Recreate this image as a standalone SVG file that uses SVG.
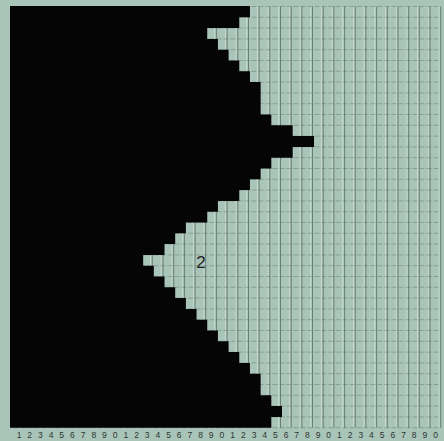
<svg xmlns="http://www.w3.org/2000/svg" width="444" height="441" viewBox="0 0 444 441">
<style>
.bg{fill:#a9c4b8}
.vl{stroke:#3f4f4a;stroke-width:0.8;opacity:0.75}
.vw{stroke:#eef6f2;stroke-width:0.9;opacity:0.5}
.hl{stroke:#3f4f4a;stroke-width:0.7;opacity:0.45;stroke-dasharray:5 2}
.blk{fill:#050505}
.lab{font-family:"Liberation Sans",Arial,sans-serif;font-size:8.5px;fill:#2e3533;text-anchor:middle}
.big{font-family:"Liberation Sans",Arial,sans-serif;font-size:17px;fill:#1c1f1e;text-anchor:middle}
</style>
<rect class="bg" x="0" y="0" width="444" height="441"/>
<g id="grid">
<path class="vw" fill="none" d="M22.4 6.5V427.7M33.1 6.5V427.7M43.7 6.5V427.7M54.4 6.5V427.7M65.1 6.5V427.7M75.8 6.5V427.7M86.5 6.5V427.7M97.1 6.5V427.7M107.8 6.5V427.7M118.5 6.5V427.7M129.2 6.5V427.7M139.9 6.5V427.7M150.5 6.5V427.7M161.2 6.5V427.7M171.9 6.5V427.7M182.6 6.5V427.7M193.3 6.5V427.7M203.9 6.5V427.7M214.6 6.5V427.7M225.3 6.5V427.7M236 6.5V427.7M246.7 6.5V427.7M257.3 6.5V427.7M268 6.5V427.7M278.7 6.5V427.7M289.4 6.5V427.7M300.1 6.5V427.7M310.7 6.5V427.7M321.4 6.5V427.7M332.1 6.5V427.7M342.8 6.5V427.7M353.5 6.5V427.7M364.1 6.5V427.7M374.8 6.5V427.7M385.5 6.5V427.7M396.2 6.5V427.7M406.9 6.5V427.7M417.5 6.5V427.7M428.2 6.5V427.7M438.9 6.5V427.7"/>
<path class="vl" fill="none" d="M13.5 6.5V427.7M24.2 6.5V427.7M34.9 6.5V427.7M45.5 6.5V427.7M56.2 6.5V427.7M66.9 6.5V427.7M77.6 6.5V427.7M88.3 6.5V427.7M98.9 6.5V427.7M109.6 6.5V427.7M120.3 6.5V427.7M131 6.5V427.7M141.7 6.5V427.7M152.3 6.5V427.7M163 6.5V427.7M173.7 6.5V427.7M184.4 6.5V427.7M195.1 6.5V427.7M205.7 6.5V427.7M216.4 6.5V427.7M227.1 6.5V427.7M237.8 6.5V427.7M248.5 6.5V427.7M259.1 6.5V427.7M269.8 6.5V427.7M280.5 6.5V427.7M291.2 6.5V427.7M301.9 6.5V427.7M312.5 6.5V427.7M323.2 6.5V427.7M333.9 6.5V427.7M344.6 6.5V427.7M355.3 6.5V427.7M365.9 6.5V427.7M376.6 6.5V427.7M387.3 6.5V427.7M398 6.5V427.7M408.7 6.5V427.7M419.3 6.5V427.7M430 6.5V427.7M440.7 6.5V427.7"/>
<path class="hl" fill="none" d="M13.5 6.5H440.7M13.5 17.3H440.7M13.5 28.1H440.7M13.5 38.9H440.7M13.5 49.7H440.7M13.5 60.5H440.7M13.5 71.3H440.7M13.5 82.1H440.7M13.5 92.9H440.7M13.5 103.7H440.7M13.5 114.5H440.7M13.5 125.3H440.7M13.5 136.1H440.7M13.5 146.9H440.7M13.5 157.7H440.7M13.5 168.5H440.7M13.5 179.3H440.7M13.5 190.1H440.7M13.5 200.9H440.7M13.5 211.7H440.7M13.5 222.5H440.7M13.5 233.3H440.7M13.5 244.1H440.7M13.5 254.9H440.7M13.5 265.7H440.7M13.5 276.5H440.7M13.5 287.3H440.7M13.5 298.1H440.7M13.5 308.9H440.7M13.5 319.7H440.7M13.5 330.5H440.7M13.5 341.3H440.7M13.5 352.1H440.7M13.5 362.9H440.7M13.5 373.7H440.7M13.5 384.5H440.7M13.5 395.3H440.7M13.5 406.1H440.7M13.5 416.9H440.7M13.5 427.7H440.7"/>
</g>
<g id="black-region">
<path class="blk" d="M10 6H249.96V17.3H239.28V28.1H207.24V38.9H217.92V49.7H228.6V60.5H239.28V71.3H249.96V82.1H260.64V114.5H271.32V125.3H292.68V136.1H314.04V146.9H292.68V157.7H271.32V168.5H260.64V179.3H249.96V190.1H239.28V200.9H217.92V211.7H207.24V222.5H185.88V233.3H175.2V244.1H164.52V254.9H143.16V265.7H153.84V276.5H164.52V287.3H175.2V298.1H185.88V308.9H196.56V319.7H207.24V330.5H217.92V341.3H228.6V352.1H239.28V362.9H249.96V373.7H260.64V395.3H271.32V406.1H282V416.9H271.32V427.7H10Z"/>
</g>
<g id="label-2">
<text class="big" x="201" y="268">2</text>
</g>
<g id="scale">
<text class="lab" x="19" y="437.5">1</text><text class="lab" x="29.7" y="437.5">2</text><text class="lab" x="40.4" y="437.5">3</text><text class="lab" x="51" y="437.5">4</text><text class="lab" x="61.7" y="437.5">5</text><text class="lab" x="72.4" y="437.5">6</text><text class="lab" x="83.1" y="437.5">7</text><text class="lab" x="93.8" y="437.5">8</text><text class="lab" x="104.4" y="437.5">9</text><text class="lab" x="115.1" y="437.5">0</text>
<text class="lab" x="125.8" y="437.5">1</text><text class="lab" x="136.5" y="437.5">2</text><text class="lab" x="147.2" y="437.5">3</text><text class="lab" x="157.8" y="437.5">4</text><text class="lab" x="168.5" y="437.5">5</text><text class="lab" x="179.2" y="437.5">6</text><text class="lab" x="189.9" y="437.5">7</text><text class="lab" x="200.6" y="437.5">8</text><text class="lab" x="211.2" y="437.5">9</text><text class="lab" x="221.9" y="437.5">0</text>
<text class="lab" x="232.6" y="437.5">1</text><text class="lab" x="243.3" y="437.5">2</text><text class="lab" x="254" y="437.5">3</text><text class="lab" x="264.6" y="437.5">4</text><text class="lab" x="275.3" y="437.5">5</text><text class="lab" x="286" y="437.5">6</text><text class="lab" x="296.7" y="437.5">7</text><text class="lab" x="307.4" y="437.5">8</text><text class="lab" x="318" y="437.5">9</text><text class="lab" x="328.7" y="437.5">0</text>
<text class="lab" x="339.4" y="437.5">1</text><text class="lab" x="350.1" y="437.5">2</text><text class="lab" x="360.8" y="437.5">3</text><text class="lab" x="371.4" y="437.5">4</text><text class="lab" x="382.1" y="437.5">5</text><text class="lab" x="392.8" y="437.5">6</text><text class="lab" x="403.5" y="437.5">7</text><text class="lab" x="414.2" y="437.5">8</text><text class="lab" x="424.8" y="437.5">9</text><text class="lab" x="435.5" y="437.5">0</text>
</g>
</svg>
